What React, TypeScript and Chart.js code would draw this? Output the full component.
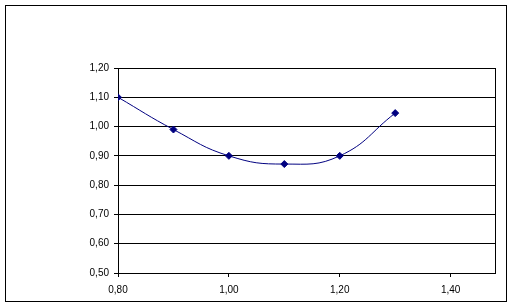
import React, { useEffect, useRef } from "react";
import { Chart, registerables } from "chart.js";

Chart.register(...registerables);

const xValues = [0.8, 0.9, 1.0, 1.1, 1.2, 1.3];
const yValues = [1.1, 0.99, 0.9, 0.872, 0.9, 1.046];
const xTickValues = [0.8, 1.0, 1.2, 1.4];
const yTickValues = [0.5, 0.6, 0.7, 0.8, 0.9, 1.0, 1.1, 1.2];

const fmt = (v: number) => v.toFixed(2).replace(".", ",");

const framePlugin = {
  id: "frame",
  afterDraw(chart: any) {
    const ctx = chart.ctx;
    const a = chart.chartArea;
    ctx.save();
    ctx.strokeStyle = "#000";
    ctx.lineWidth = 1;
    ctx.strokeRect(5.5, 5.5, 501, 296);
    ctx.beginPath();
    ctx.moveTo(Math.round(a.right) + 0.5, a.top);
    ctx.lineTo(Math.round(a.right) + 0.5, a.bottom);
    ctx.stroke();
    ctx.restore();
  },
};

export default function App() {
  const ref = useRef<HTMLCanvasElement>(null);
  useEffect(() => {
    document.body.style.margin = "0";
    const chart = new Chart(ref.current!, {
      type: "line",
      data: {
        datasets: [
          {
            data: xValues.map((x, i) => ({ x, y: yValues[i] })),
            borderColor: "#000080",
            backgroundColor: "#000080",
            borderWidth: 1,
            tension: 0.45,
            pointStyle: "rectRot",
            pointRadius: 3.5,
            pointBorderWidth: 1,
            pointBackgroundColor: "#000080",
            pointBorderColor: "#000080",
          },
        ],
      },
      options: {
        animation: false,
        responsive: false,
        layout: { padding: { left: 0, top: 68, right: 17, bottom: 0 } },
        plugins: { legend: { display: false }, tooltip: { enabled: false } },
        scales: {
          x: {
            type: "linear",
            min: 0.8,
            max: 1.48,
            afterBuildTicks: (s: any) => {
              s.ticks = xTickValues.map((v) => ({ value: v }));
            },
            afterFit: (s: any) => {
              s.height = 33;
            },
            border: { color: "#000", width: 1 },
            grid: { drawOnChartArea: false, color: "#000", tickLength: 4 },
            ticks: {
              color: "#000",
              padding: 7,
              maxRotation: 0,
              autoSkip: false,
              font: { family: "Liberation Sans", size: 10 },
              callback: (v: any) => fmt(Number(v)),
            },
          },
          y: {
            type: "linear",
            min: 0.5,
            max: 1.2,
            afterBuildTicks: (s: any) => {
              s.ticks = yTickValues.map((v) => ({ value: v }));
            },
            afterFit: (s: any) => {
              s.width = 118;
            },
            border: { color: "#000", width: 1 },
            grid: { color: "#000", tickLength: 4 },
            ticks: {
              color: "#000",
              padding: 5,
              autoSkip: false,
              font: { family: "Liberation Sans", size: 10 },
              callback: (v: any) => fmt(Number(v)),
            },
          },
        },
      },
      plugins: [framePlugin],
    });
    return () => chart.destroy();
  }, []);
  return (
    <div style={{ position: "absolute", left: 0, top: 0, width: 512, height: 306, background: "#fff" }}>
      <canvas ref={ref} width={512} height={306} />
    </div>
  );
}
